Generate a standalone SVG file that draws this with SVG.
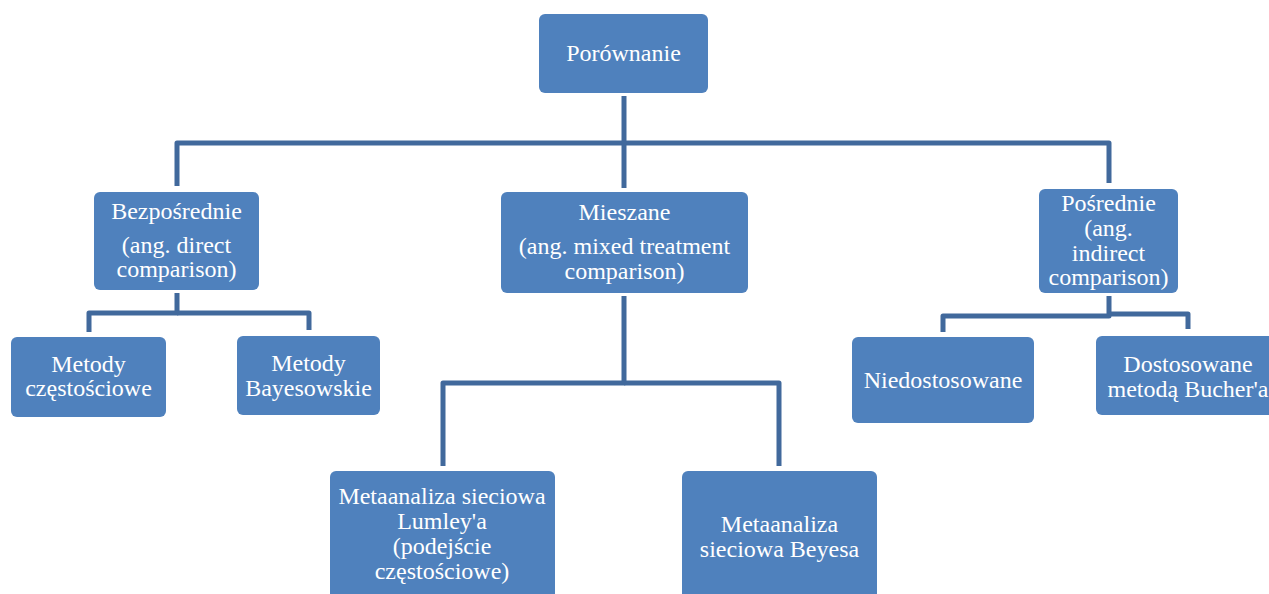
<svg xmlns="http://www.w3.org/2000/svg" width="1269" height="594" viewBox="0 0 1269 594">
<style>
.box{fill:#4F81BD;}
.t{font-family:"Liberation Serif","Times New Roman",serif;font-size:24px;fill:#FFFFFF;text-anchor:middle;}
.c{fill:none;stroke:#41699C;stroke-width:5;stroke-linejoin:round;stroke-linecap:butt;}
</style>
<rect width="1269" height="594" fill="#FFFFFF"/>
<g id="connectors">
<path class="c" d="M624,96 V143"/>
<path class="c" d="M624,143 H177 V186"/>
<path class="c" d="M624,143 H1109 V183"/>
<path class="c" d="M624,143 V188"/>
<path class="c" d="M177,293 V313 H89 V332"/>
<path class="c" d="M177,313 H309 V330"/>
<path class="c" d="M624,296 V383 H443 V466"/>
<path class="c" d="M624,383 H779 V466"/>
<path class="c" d="M1109,296 V316 H943 V332"/>
<path class="c" d="M1109,314 H1188 V329"/>
</g>
<g id="porownanie">
<rect class="box" x="539" y="14" width="169" height="79" rx="6"/>
<text class="t" x="623.5" y="61">Porównanie</text>
</g>
<g id="bezposrednie">
<rect class="box" x="94" y="192" width="165" height="98" rx="6"/>
<text class="t" x="176.5" y="219">Bezpośrednie</text>
<text class="t" x="176.5" y="253">(ang. direct</text>
<text class="t" x="176.5" y="277">comparison)</text>
</g>
<g id="mieszane">
<rect class="box" x="501" y="192" width="247" height="101" rx="6"/>
<text class="t" x="624.5" y="220">Mieszane</text>
<text class="t" x="624.5" y="254">(ang. mixed treatment</text>
<text class="t" x="624.5" y="279">comparison)</text>
</g>
<g id="posrednie">
<rect class="box" x="1039" y="189" width="139" height="104" rx="6"/>
<text class="t" x="1108.5" y="211">Pośrednie</text>
<text class="t" x="1108.5" y="236">(ang.</text>
<text class="t" x="1108.5" y="261">indirect</text>
<text class="t" x="1108.5" y="285">comparison)</text>
</g>
<g id="metody-czestosciowe">
<rect class="box" x="11" y="337" width="155" height="80" rx="6"/>
<text class="t" x="88.5" y="372">Metody</text>
<text class="t" x="88.5" y="396">częstościowe</text>
</g>
<g id="metody-bayesowskie">
<rect class="box" x="237" y="336" width="143" height="79" rx="6"/>
<text class="t" x="308.5" y="371">Metody</text>
<text class="t" x="308.5" y="396">Bayesowskie</text>
</g>
<g id="lumley">
<rect class="box" x="330" y="471" width="225" height="130" rx="6"/>
<text class="t" x="442" y="504">Metaanaliza sieciowa</text>
<text class="t" x="442" y="529">Lumley'a</text>
<text class="t" x="442" y="554">(podejście</text>
<text class="t" x="442" y="579">częstościowe)</text>
</g>
<g id="beyesa">
<rect class="box" x="682" y="471" width="195" height="130" rx="6"/>
<text class="t" x="779.5" y="532">Metaanaliza</text>
<text class="t" x="779.5" y="557">sieciowa Beyesa</text>
</g>
<g id="niedostosowane">
<rect class="box" x="852" y="337" width="182" height="86" rx="6"/>
<text class="t" x="943" y="388">Niedostosowane</text>
</g>
<g id="dostosowane">
<rect class="box" x="1096" y="336" width="184" height="79" rx="6"/>
<text class="t" x="1188" y="372">Dostosowane</text>
<text class="t" x="1188" y="397">metodą Bucher'a</text>
</g>
</svg>
